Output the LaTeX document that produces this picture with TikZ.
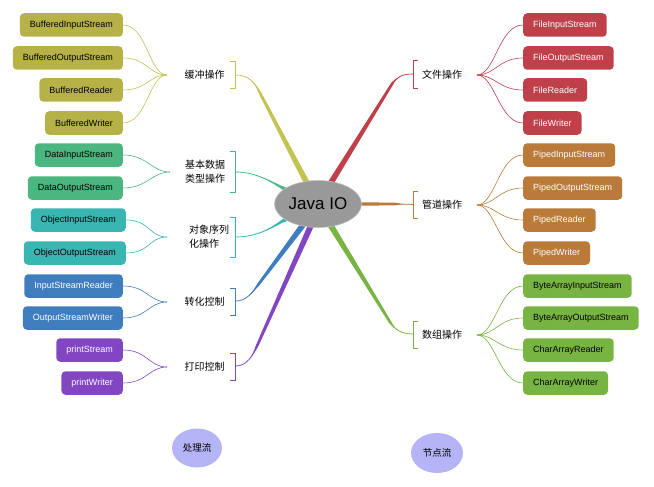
\documentclass[tikz,border=0pt]{standalone}
\usepackage{fontspec}
\setmainfont{Liberation Sans}
\newfontfamily\cjk{Noto Sans CJK SC}
\usetikzlibrary{calc,shapes.geometric}
\definecolor{cOl}{HTML}{B6B248}
\definecolor{cOlL}{HTML}{C4C250}
\definecolor{cDa}{HTML}{4CB680}
\definecolor{cTe}{HTML}{3AB6B2}
\definecolor{cBl}{HTML}{3F7DBE}
\definecolor{cPu}{HTML}{8246C3}
\definecolor{cRe}{HTML}{C0404A}
\definecolor{cBr}{HTML}{BA7A3A}
\definecolor{cGr}{HTML}{78B442}
\definecolor{cLav}{HTML}{B4B4F6}
\definecolor{cRoot}{HTML}{999999}
\newcommand\mmbranch[7][3pt]{%
 \fill[#2] ($(#3)!#1!90:(#4)$) -- ($(#4)!1.3pt!-90:(#3)$) .. controls (#5) and (#6) .. (#7) .. controls (#6) and (#5) .. ($(#4)!1.3pt!90:(#3)$) -- ($(#3)!#1!-90:(#4)$) -- cycle;
 \draw[#2, line width=0.7pt] (#4) .. controls (#5) and (#6) .. (#7);}
\tikzset{
 leaf/.style={rounded corners=4pt, minimum height=23.5pt, inner xsep=10pt, inner ysep=0pt, font=\fontsize{9}{10}\selectfont},
 lleaf/.style={leaf, anchor=east},
 rleaf/.style={leaf, anchor=west},
 cat/.style={font=\cjk\fontsize{10}{14}\selectfont, align=center, inner sep=0pt},
 fan/.style={line width=0.6pt},
 brk/.style={line width=0.6pt},
}
\begin{document}
\begin{tikzpicture}[x=1pt,y=-1pt]
\useasboundingbox (0,0) rectangle (654,487);
% ---- main branches (drawn under root)
\coordinate (oA) at (310,189); \coordinate (oB) at (260,93); \coordinate (oC) at (255,83); \coordinate (oD) at (249,75); \coordinate (oE) at (236,75);
\mmbranch{cOlL}{oA}{oB}{oC}{oD}{oE}
\coordinate (rA) at (327,189); \coordinate (rB) at (392,84); \coordinate (rC) at (397,77); \coordinate (rD) at (402,74); \coordinate (rE) at (413,74);
\mmbranch{cRe}{rA}{rB}{rC}{rD}{rE}
\coordinate (dA) at (292,193); \coordinate (dB) at (281,187); \coordinate (dC) at (265,178); \coordinate (dD) at (252,172); \coordinate (dE) at (236,172);
\mmbranch{cDa}{dA}{dB}{dC}{dD}{dE}
\coordinate (tA) at (292,216); \coordinate (tB) at (281,222); \coordinate (tC) at (265,232); \coordinate (tD) at (252,237); \coordinate (tE) at (236,237);
\mmbranch{cTe}{tA}{tB}{tC}{tD}{tE}
\coordinate (uA) at (306,221); \coordinate (uB) at (258,285); \coordinate (uC) at (252,293); \coordinate (uD) at (246,301); \coordinate (uE) at (236,301);
\mmbranch{cBl}{uA}{uB}{uC}{uD}{uE}
\coordinate (pA) at (313,221); \coordinate (pB) at (257,346); \coordinate (pC) at (253,355); \coordinate (pD) at (247,366); \coordinate (pE) at (236,366);
\mmbranch{cPu}{pA}{pB}{pC}{pD}{pE}
\coordinate (wA) at (355,204); \coordinate (wB) at (395,204); \coordinate (wC) at (402,204); \coordinate (wD) at (406,204); \coordinate (wE) at (413,204);
\mmbranch[1.8pt]{cBr}{wA}{wB}{wC}{wD}{wE}
\coordinate (gA) at (328,221); \coordinate (gB) at (390,322); \coordinate (gC) at (395,330); \coordinate (gD) at (402,334); \coordinate (gE) at (413,334);
\mmbranch{cGr}{gA}{gB}{gC}{gD}{gE}
% ---- root
\node[ellipse, fill=cRoot, draw=black!25, line width=0.6pt, minimum width=87pt, minimum height=47pt, inner sep=0pt, font=\fontsize{17}{20}\selectfont] (root) at (318,204) {Java IO};
% ---- brackets
\draw[brk,cOlL] (230,61) -- (235,61) -- (235,88) -- (230,88);
\draw[brk,cDa] (230,151) -- (235,151) -- (235,192) -- (230,192);
\draw[brk,cTe] (230,217) -- (235,217) -- (235,257) -- (230,257);
\draw[brk,cBl] (230,288) -- (235,288) -- (235,315) -- (230,315);
\draw[brk,cPu] (230,353) -- (235,353) -- (235,380) -- (230,380);
\draw[brk,cRe] (418,60) -- (413,60) -- (413,88) -- (418,88);
\draw[brk,cBr] (418,191) -- (413,191) -- (413,218) -- (418,218);
\draw[brk,cGr] (418,321) -- (413,321) -- (413,348) -- (418,348);
% ---- category labels
\node[cat] (k1) at (204.5,75) {缓冲操作};
\node[cat] (k2) at (205,172) {基本数据\\类型操作};
\node[cat, align=left] (k3) at (209,237) {对象序列\\化操作};
\node[cat] (k4) at (204.5,302) {转化控制};
\node[cat] (k5) at (204.5,367) {打印控制};
\node[cat] (k6) at (442,75) {文件操作};
\node[cat] (k7) at (442,205) {管道操作};
\node[cat] (k8) at (442,335) {数组操作};
% ---- fan points
\coordinate (f1) at (167,75); \coordinate (f2) at (170,172); \coordinate (f3) at (167,237);
\coordinate (f4) at (167,302); \coordinate (f5) at (167,367);
\coordinate (f6) at (477,75); \coordinate (f7) at (477,205); \coordinate (f8) at (477,335);
% ---- left leaves
\node[lleaf, fill=cOl] (a1) at (123,25) {BufferedInputStream};
\node[lleaf, fill=cOl] (a2) at (123,58) {BufferedOutputStream};
\node[lleaf, fill=cOl] (a3) at (123,90) {BufferedReader};
\node[lleaf, fill=cOl] (a4) at (123,123) {BufferedWriter};
\node[lleaf, fill=cDa] (a5) at (123,155) {DataInputStream};
\node[lleaf, fill=cDa] (a6) at (123,188) {DataOutputStream};
\node[lleaf, fill=cTe] (a7) at (126,220) {ObjectInputStream};
\node[lleaf, fill=cTe] (a8) at (126,253) {ObjectOutputStream};
\node[lleaf, fill=cBl, text=white] (a9) at (123,286) {InputStreamReader};
\node[lleaf, fill=cBl, text=white] (a10) at (123,318) {OutputStreamWriter};
\node[lleaf, fill=cPu, text=white] (a11) at (123,350) {printStream};
\node[lleaf, fill=cPu, text=white] (a12) at (123,383) {printWriter};
% ---- right leaves
\node[rleaf, fill=cRe, text=white] (b1) at (523,25) {FileInputStream};
\node[rleaf, fill=cRe, text=white] (b2) at (523,58) {FileOutputStream};
\node[rleaf, fill=cRe, text=white] (b3) at (523,90) {FileReader};
\node[rleaf, fill=cRe, text=white] (b4) at (523,123) {FileWriter};
\node[rleaf, fill=cBr, text=white] (b5) at (523,155) {PipedInputStream};
\node[rleaf, fill=cBr, text=white] (b6) at (523,188) {PipedOutputStream};
\node[rleaf, fill=cBr, text=white] (b7) at (523,220) {PipedReader};
\node[rleaf, fill=cBr, text=white] (b8) at (523,253) {PipedWriter};
\node[rleaf, fill=cGr] (b9) at (523,286) {ByteArrayInputStream};
\node[rleaf, fill=cGr] (b10) at (523,318) {ByteArrayOutputStream};
\node[rleaf, fill=cGr] (b11) at (523,350) {CharArrayReader};
\node[rleaf, fill=cGr] (b12) at (523,383) {CharArrayWriter};
% ---- fans
\foreach \n/\f/\c in {a1/f1/cOlL,a2/f1/cOlL,a3/f1/cOlL,a4/f1/cOlL,a5/f2/cDa,a6/f2/cDa,a7/f3/cTe,a8/f3/cTe,a9/f4/cBl,a10/f4/cBl,a11/f5/cPu,a12/f5/cPu}
  \draw[fan,\c] (\n.east) .. controls +(24,0) and ($(\f)+(-18,0)$) .. (\f);
\foreach \n/\f/\c in {b1/f6/cRe,b2/f6/cRe,b3/f6/cRe,b4/f6/cRe,b5/f7/cBr,b6/f7/cBr,b7/f7/cBr,b8/f7/cBr,b9/f8/cGr,b10/f8/cGr,b11/f8/cGr,b12/f8/cGr}
  \draw[fan,\c] (\n.west) .. controls +(-24,0) and ($(\f)+(18,0)$) .. (\f);
% ---- bottom ellipses
\node[ellipse, fill=cLav, minimum width=50pt, minimum height=39pt, inner sep=0pt, font=\cjk\fontsize{9.5}{11}\selectfont] (proc) at (197,448) {处理流};
\node[ellipse, fill=cLav, minimum width=52pt, minimum height=40pt, inner sep=0pt, font=\cjk\fontsize{9.5}{11}\selectfont] (nodef) at (437,453) {节点流};
\end{tikzpicture}
\end{document}
